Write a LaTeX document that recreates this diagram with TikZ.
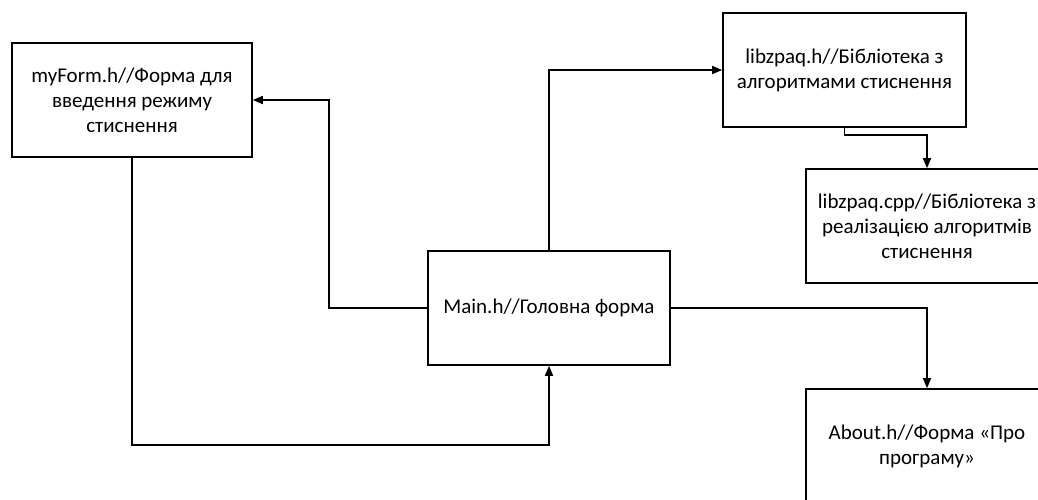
\documentclass[tikz,border=0pt]{standalone}
\usepackage{fontspec}
\setmainfont{Carlito}
\usetikzlibrary{arrows.meta}
\begin{document}
\begin{tikzpicture}[x=1pt,y=-1pt,
  box/.style={draw,line width=1.6pt,rectangle,minimum width=242pt,minimum height=114pt,align=center,font=\fontsize{21}{25}\selectfont,inner sep=0pt},
  conn/.style={line width=1.6pt,-{Triangle[length=10pt,width=8pt]}}]
\useasboundingbox (0,0) rectangle (1038,499);
\clip (0,0) rectangle (1038,499);
\fill[white] (0,0) rectangle (1038,499);
\node[box,minimum width=240pt] (myform) at (132,100) {myForm.h//Форма для\\введення режиму\\стиснення};
\node[box,minimum width=243pt] (libh) at (844.5,70) {libzpaq.h//Бібліотека з\\алгоритмами стиснення};
\node[box] (cpp) at (927,226) {libzpaq.cpp//Бібліотека з\\реалізацією алгоритмів\\стиснення};
\node[box] (main) at (549,308) {Main.h//Головна форма};
\node[box] (about) at (927,446) {About.h//Форма «Про\\програму»};
\draw[conn] (main.west) -- ++(-98,0) |- (myform.east);
\draw[conn] (main.north) |- (libh.west);
\draw[conn] (libh.south) -- ++(0,7) -| (cpp.north);
\draw[conn] (main.east) -| (about.north);
\draw[conn] (myform.south) -- ++(0,287) -| (main.south);
\end{tikzpicture}
\end{document}
